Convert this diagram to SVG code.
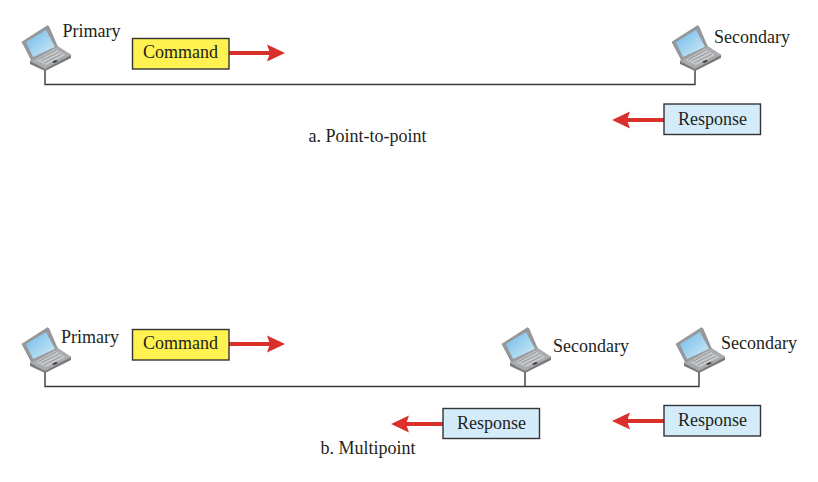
<svg xmlns="http://www.w3.org/2000/svg" width="818" height="482" viewBox="0 0 818 482">
<style>
text{font-family:"Liberation Serif","Times New Roman",serif;font-size:18px;fill:#231f20}
.box{stroke:#333;stroke-width:1.4}
.cmd{fill:#fff14f}
.rsp{fill:#d4ecfa}
.wire{fill:none;stroke:#3a3a3a;stroke-width:1.4}
.flow{stroke:#d9302c;stroke-width:4;fill:none}
.head{fill:#d9302c}
</style>
<defs>
<linearGradient id="scr" x1="0" y1="0" x2="1" y2="1"><stop offset="0" stop-color="#6fb9e8"/><stop offset="1" stop-color="#d3ecf8"/></linearGradient>
<g id="laptop">
<path d="M-23-28L2-44Q3-45 4-43L13-22L-13-9Z" fill="#97999c" stroke="#77797b" stroke-width=".6"/>
<path d="M-19-28L1-40L10-23L-12-13Z" fill="url(#scr)"/>
<path d="M-15-9L12-24L26-15L0-1Z" fill="#a9abae" stroke="#8a8c8e" stroke-width=".5"/>
<path d="M-9-10L10-21L20-15L1-5Z" fill="#c9cbcd"/>
<path d="M-7-10L11-20M-4-9L14-18M-1-7L17-16" stroke="#7f8183" stroke-width=".8" fill="none"/>
<path d="M7-8L11-10L13-9L9-7Z" fill="#333"/>
<path d="M-15-9L0-1L26-15L26-12L0 1L-15-6Z" fill="#77797b"/>
</g>
<g id="leftArrow"><path class="flow" d="M0 0H-38"/><path class="head" d="M-52 0L-34-8.500L-37 0L-34 8.500Z"/></g>
<g id="rightArrow"><path class="flow" d="M0 0H42"/><path class="head" d="M56 0L38-8.500L41 0L38 8.500Z"/></g>
</defs>
<g id="connectors">
<path class="wire" d="M45 70V84.500H695V70"/>
<path class="wire" d="M45 372V386.500H699V372M525 372V386.500"/>
<use href="#rightArrow" x="229" y="53"/>
<use href="#leftArrow" x="664" y="120"/>
<use href="#rightArrow" x="229" y="344"/>
<use href="#leftArrow" x="443" y="424"/>
<use href="#leftArrow" x="664" y="421"/>
</g>
<g id="primary-a"><use href="#laptop" x="45" y="70"/><text x="62.500" y="36.500">Primary</text></g>
<g id="command-a"><rect class="box cmd" x="132.500" y="38.500" width="96.500" height="30.500"/><text x="180.500" y="58" text-anchor="middle">Command</text></g>
<g id="secondary-a"><use href="#laptop" x="695" y="70"/><text x="714" y="42.500">Secondary</text></g>
<g id="response-a"><rect class="box rsp" x="664" y="104" width="96.500" height="30.500"/><text x="712.500" y="124.500" text-anchor="middle">Response</text></g>
<text id="caption-a" x="308.500" y="142">a. Point-to-point</text>
<g id="primary-b"><use href="#laptop" x="45" y="372"/><text x="61" y="342.500">Primary</text></g>
<g id="command-b"><rect class="box cmd" x="132.500" y="329.500" width="96.500" height="30.500"/><text x="180.500" y="349" text-anchor="middle">Command</text></g>
<g id="secondary-b1"><use href="#laptop" x="525" y="372"/><text x="553" y="351.500">Secondary</text></g>
<g id="secondary-b2"><use href="#laptop" x="699" y="372"/><text x="721" y="348.500">Secondary</text></g>
<g id="response-b1"><rect class="box rsp" x="443" y="408.500" width="96.500" height="30"/><text x="491.500" y="428.500" text-anchor="middle">Response</text></g>
<g id="response-b2"><rect class="box rsp" x="664" y="405.500" width="96.500" height="30.500"/><text x="712.500" y="426" text-anchor="middle">Response</text></g>
<text id="caption-b" x="320.500" y="454">b. Multipoint</text>
</svg>
